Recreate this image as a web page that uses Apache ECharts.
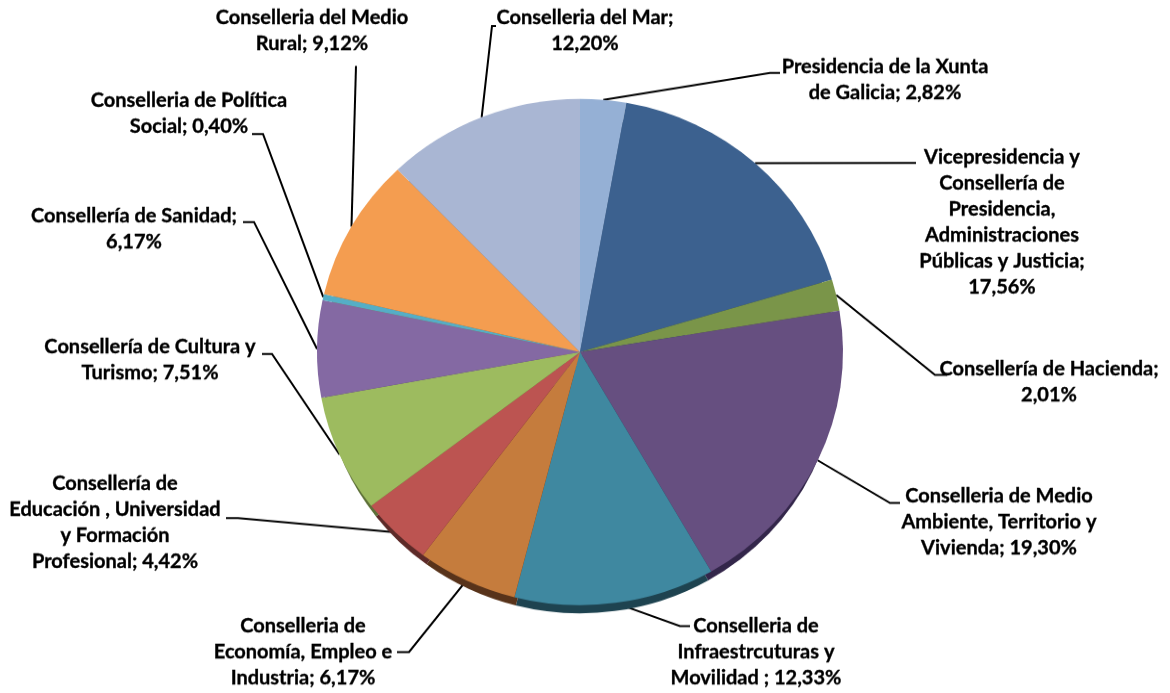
<!DOCTYPE html>
<html><head><meta charset="utf-8">
<style>html,body{margin:0;padding:0;background:#fff;overflow:hidden}
#c{position:absolute;left:0;top:0;width:1170px;height:720px;transform:scaleY(0.9625);transform-origin:0 0}</style>
<script src="https://cdn.jsdelivr.net/npm/echarts@6/dist/echarts.min.js"></script>
</head><body><div id="c"></div>
<script>
const categories = [
 "Presidencia de la Xunta\nde Galicia; 2,82%",
 "Vicepresidencia y\nConsellería de\nPresidencia,\nAdministraciones\nPúblicas y Justicia;\n17,56%",
 "Consellería de Hacienda;\n2,01%",
 "Conselleria de Medio\nAmbiente, Territorio y\nVivienda; 19,30%",
 "Conselleria de\nInfraestrcuturas y\nMovilidad ; 12,33%",
 "Conselleria de\nEconomía, Empleo e\nIndustria; 6,17%",
 "Consellería de\nEducación , Universidad\ny Formación\nProfesional; 4,42%",
 "Consellería de Cultura y\nTurismo; 7,51%",
 "Consellería de Sanidad;\n6,17%",
 "Conselleria de Política\nSocial; 0,40%",
 "Conselleria del Medio\nRural; 9,12%",
 "Conselleria del Mar;\n12,20%"
];
const values = [2.82,17.56,2.01,19.30,12.33,6.17,4.42,7.51,6.17,0.40,9.12,12.20];
const faceColors = ["#95B0D5","#3C618F","#7A9549","#664F80","#3F88A0","#C57C3D","#BC5451","#9DBB5F","#8469A3","#55AEC6","#F49D50","#A9B6D3"];
const edgeColors = ["#5a6f8c","#223a58","#4a5c2c","#33264A","#1E4350","#58331A","#5D2A28","#5d7038","#4f3f63","#2f6a7a","#95602f","#69728a"];
const labelCenters = [[885,80],[1002,222],[1049,382],[999,522],[756,652],[303,652],[115,523],[150,360],[134,229],[189,114],[312,31],[585,31]];
const leaderBends = [[[770,73],[780,73]],[[906,163],[916,163]],[[935,375],[947,375]],[[890,503],[900,503]],[[680,626],[690,626]],[[409,652],[397,652]],[[238,518],[226,518]],[[272,354],[262,354]],[[254,222],[243,222]],[[263,134],[252,134]],[[356,66],[356,66]],[[492,26],[496,26]]];
const squash = 0.9625;
const cx = 580, cy = 352 / squash, r = 263;
const chart = echarts.init(document.getElementById('c'), null, {renderer:'canvas'});
const yc = p => [p[0], p[1] / squash];
chart.setOption({
  animation:false,
  backgroundColor:'#fff',
  series:[
    {type:'pie',silent:true,center:[cx,cy+14.5],radius:[0,r-6],startAngle:90,clockwise:true,
     label:{show:false},labelLine:{show:false},
     data:values.map((v,i)=>({name:'e'+i,value:v,itemStyle:{color:edgeColors[i]}}))},
    {type:'pie',silent:true,center:[cx,cy],radius:[0,r],startAngle:90,clockwise:true,avoidLabelOverlap:false,
     data:values.map((v,i)=>({name:categories[i],value:v,itemStyle:{color:faceColors[i]}})),
     label:{show:true,position:'outside',formatter:'{b}',fontFamily:'Lato',fontWeight:'bold',fontSize:20,lineHeight:27,color:'#000',textBorderColor:'#000',textBorderWidth:0.35,align:'center',verticalAlign:'middle'},
     labelLine:{show:true,length:10,length2:10,lineStyle:{color:'#000',width:2}},
     labelLayout:function(p){
       const i=p.dataIndex, c=yc(labelCenters[i]);
       const out={x:c[0],y:c[1],align:'center',verticalAlign:'middle'};
       if(p.labelLinePoints){out.labelLinePoints=[p.labelLinePoints[0],yc(leaderBends[i][0]),yc(leaderBends[i][1])];}
       return out;
     }}
  ]
});
</script></body></html>
